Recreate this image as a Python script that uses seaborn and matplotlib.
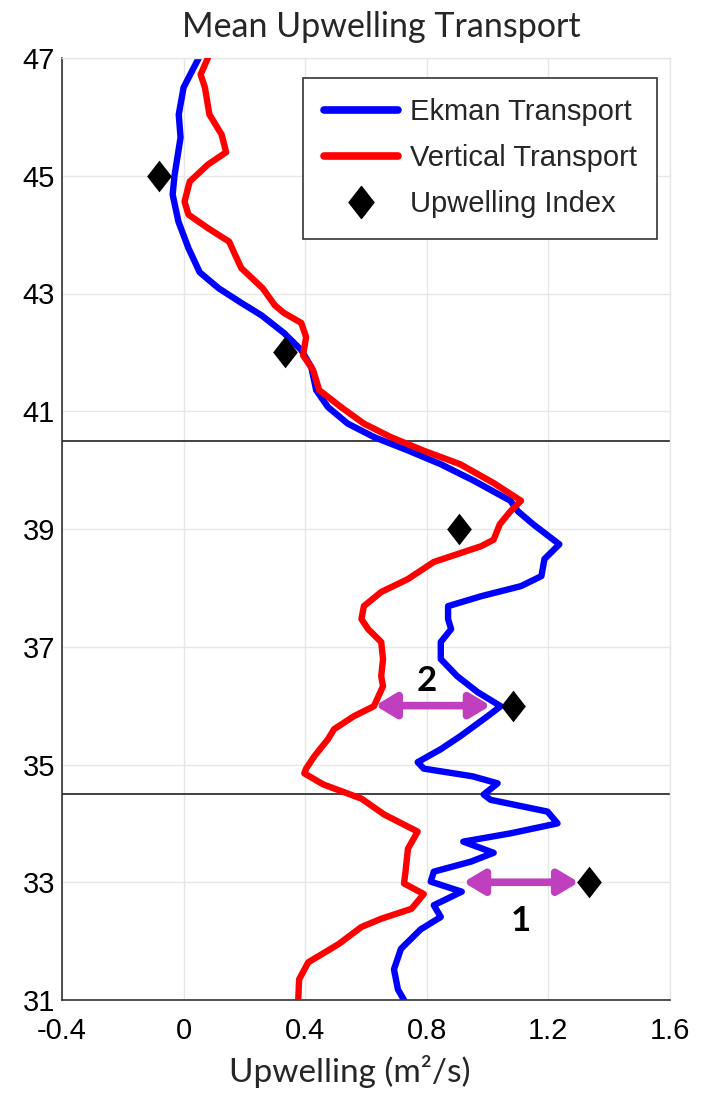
import numpy as np
import pandas as pd
import matplotlib
matplotlib.use("Agg")
import matplotlib.pyplot as plt
from matplotlib.path import Path
from matplotlib.lines import Line2D
import seaborn as sns

# Ekman transport profile (latitude, m^2/s)
ekman_lat = [47.0, 46.5, 46.04, 45.65, 45.0, 44.68, 44.22, 43.77, 43.36, 43.09,
             42.84, 42.63, 42.33, 42.04, 41.75, 41.36, 41.07, 40.79, 40.56, 40.33,
             40.1, 39.82, 39.48, 39.3, 39.08, 38.74, 38.49, 38.2, 38.03, 37.86,
             37.69, 37.47, 37.3, 37.08, 36.79, 36.5, 36.23, 35.99, 35.82, 35.65,
             35.48, 35.26, 35.04, 34.93, 34.8, 34.68, 34.49, 34.4, 34.2, 34.0,
             33.83, 33.69, 33.5, 33.35, 33.18, 33.01, 32.84, 32.61, 32.41, 32.2,
             31.87, 31.52, 31.18, 31.0]
ekman_val = [0.05, 0.0, -0.016, -0.01, -0.03, -0.036, -0.017, 0.016, 0.053, 0.115,
             0.19, 0.256, 0.33, 0.387, 0.42, 0.436, 0.475, 0.54, 0.627, 0.74,
             0.846, 0.955, 1.075, 1.10, 1.15, 1.236, 1.187, 1.177, 1.11, 0.98,
             0.87, 0.87, 0.88, 0.846, 0.846, 0.90, 0.967, 1.043, 1.0, 0.955,
             0.91, 0.846, 0.77, 0.79, 0.95, 1.033, 0.987, 1.01, 1.197, 1.23,
             1.075, 0.92, 1.02, 0.945, 0.823, 0.813, 0.915, 0.823, 0.846, 0.78,
             0.715, 0.692, 0.705, 0.725]

# Vertical transport profile
vert_lat = [47.0, 46.72, 46.5, 46.04, 45.7, 45.4, 45.19, 44.9, 44.56, 44.34,
            44.11, 43.88, 43.65, 43.43, 43.09, 42.8, 42.67, 42.5, 42.26, 41.95,
            41.7, 41.36, 41.07, 40.79, 40.56, 40.33, 40.1, 39.78, 39.48, 39.3,
            39.08, 38.82, 38.71, 38.44, 38.15, 37.93, 37.69, 37.47, 37.3, 37.08,
            36.79, 36.5, 36.33, 35.99, 35.82, 35.6, 35.43, 35.14, 34.93, 34.85,
            34.66, 34.42, 34.15, 33.86, 33.57, 33.18, 32.98, 32.8, 32.55, 32.38,
            32.24, 31.95, 31.64, 31.35, 31.0]
vert_val = [0.08, 0.056, 0.07, 0.085, 0.125, 0.14, 0.08, 0.02, 0.003, 0.016,
            0.08, 0.15, 0.17, 0.19, 0.26, 0.30, 0.33, 0.387, 0.403, 0.393,
            0.426, 0.446, 0.518, 0.593, 0.682, 0.79, 0.91, 1.02, 1.11, 1.075,
            1.04, 1.02, 0.98, 0.823, 0.738, 0.65, 0.593, 0.585, 0.607, 0.65,
            0.656, 0.65, 0.656, 0.626, 0.56, 0.495, 0.475, 0.43, 0.403, 0.397,
            0.46, 0.585, 0.66, 0.77, 0.738, 0.73, 0.725, 0.79, 0.75, 0.65,
            0.585, 0.51, 0.41, 0.38, 0.377]

# Upwelling index stations
index_lat = [45, 42, 39, 36, 33]
index_val = [-0.08, 0.335, 0.905, 1.085, 1.335]

# Region boundaries
boundary_lat = [40.5, 34.5]

# Transport differences marked with arrows
arrow_labels = ["2", "1"]
arrow_lat = [36.0, 33.0]
arrow_x0 = [0.63, 0.92]
arrow_x1 = [1.01, 1.30]
arrow_text_x = [0.80, 1.11]
arrow_text_y = [36.42, 32.35]

xticks = [-0.4, 0, 0.4, 0.8, 1.2, 1.6]
xticklabels = ["-0.4", "0", "0.4", "0.8", "1.2", "1.6"]
yticks = [31, 33, 35, 37, 39, 41, 43, 45, 47]

sns.set_theme(style="whitegrid")
plt.rcParams["font.family"] = ["Liberation Sans", "DejaVu Sans"]

fig = plt.figure(figsize=(7.01, 10.97), dpi=100)
ax = fig.add_axes([62 / 701, 1 - 1000 / 1097, (670 - 62) / 701, (1000 - 58) / 1097])

ek = pd.DataFrame({"lat": ekman_lat, "val": ekman_val})
vt = pd.DataFrame({"lat": vert_lat, "val": vert_val})
ix = pd.DataFrame({"lat": index_lat, "val": index_val})

for y in boundary_lat:
    ax.axhline(y, color="#333333", lw=1.3, zorder=1)

sns.lineplot(data=vt, x="val", y="lat", sort=False, estimator=None,
             color="#ff0000", lw=4.6, ax=ax, zorder=3)
sns.lineplot(data=ek, x="val", y="lat", sort=False, estimator=None,
             color="#0000ff", lw=4.6, ax=ax, zorder=2)

diamond = Path([(0, 1), (0.78, 0), (0, -1), (-0.78, 0), (0, 1)],
               [Path.MOVETO, Path.LINETO, Path.LINETO, Path.LINETO, Path.CLOSEPOLY])
sns.scatterplot(data=ix, x="val", y="lat", marker=diamond, s=520, color="black",
                edgecolor="black", linewidth=0, ax=ax, zorder=5)

arrow_color = "#bf3fbf"
for lab, yl, x0, x1, tx, ty in zip(arrow_labels, arrow_lat, arrow_x0, arrow_x1,
                                   arrow_text_x, arrow_text_y):
    ax.annotate("", xy=(x1, yl), xytext=(x0, yl),
                arrowprops=dict(arrowstyle="<|-|>,head_length=1.0,head_width=0.6",
                                color=arrow_color, lw=5.5, shrinkA=0, shrinkB=0),
                zorder=6)
    ax.text(tx, ty, lab, fontsize=25, fontweight="bold", ha="center", va="center",
            family=["Lato", "DejaVu Sans"], color="black", zorder=6)

ax.set_xlim(-0.4, 1.6)
ax.set_ylim(31, 47)
ax.set_xticks(xticks)
ax.set_xticklabels(xticklabels)
ax.set_yticks(yticks)
ax.tick_params(axis="both", direction="in", length=7, width=1, color="#333333",
               labelsize=21, labelcolor="black", pad=5)
ax.tick_params(axis="x", pad=12)
ax.grid(True, color="#e6e6e6", lw=1)
ax.set_xlabel("")
ax.set_ylabel("")
for side in ["left", "bottom"]:
    ax.spines[side].set_color("#333333")
    ax.spines[side].set_linewidth(1.2)
for side in ["top", "right"]:
    ax.spines[side].set_color("#e6e6e6")
    ax.spines[side].set_linewidth(1)

handles = [
    Line2D([], [], color="#0000ff", lw=5.5),
    Line2D([], [], color="#ff0000", lw=5.5),
    Line2D([], [], color="black", marker=diamond, markersize=23, linestyle="None"),
]
leg = ax.legend(handles, ["Ekman Transport", "Vertical Transport", "Upwelling Index"],
                loc="upper right", bbox_to_anchor=(0.979, 0.979), borderaxespad=0,
                fontsize=21, frameon=True, fancybox=False, framealpha=1,
                edgecolor="#333333", handlelength=2.55, handletextpad=0.4,
                labelspacing=0.62, borderpad=0.7)
leg.get_frame().set_linewidth(1.2)

fig.text(381 / 701, 1 - 27 / 1097, "Mean Upwelling Transport", fontsize=24.5,
         ha="center", va="center", family=["Lato", "DejaVu Sans"])
fig.text(350 / 701, 1 - 1072 / 1097, "Upwelling (m\u00b2/s)", fontsize=24,
         ha="center", va="center", family=["Lato", "DejaVu Sans"])

fig.savefig("out.png", dpi=100)
